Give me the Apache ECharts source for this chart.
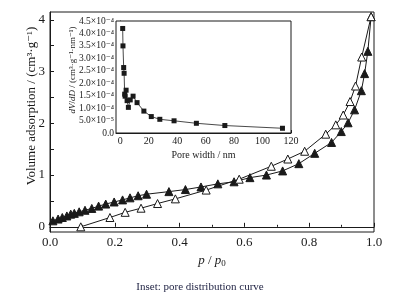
<!DOCTYPE html>
<html>
<head>
<meta charset="utf-8">
<script src="https://cdn.jsdelivr.net/npm/echarts@6/dist/echarts.min.js"></script>
<style>
  html, body { margin: 0; padding: 0; background: #fff; }
  #chart { width: 398px; height: 299px; }
</style>
</head>
<body>
<div id="chart"></div>
<script>
// 主图：吸附（实心）和脱附（空心）等温线
const adsP = [0.009, 0.025, 0.038, 0.052, 0.064, 0.075, 0.09, 0.108, 0.129, 0.15, 0.172, 0.198, 0.224, 0.247, 0.272, 0.298,
    0.367, 0.418, 0.466, 0.518, 0.568, 0.617, 0.668, 0.718, 0.768, 0.817, 0.869, 0.899, 0.92, 0.94, 0.961, 0.971, 0.981, 0.991];
const adsV = [0.116, 0.15, 0.18, 0.21, 0.245, 0.26, 0.29, 0.32, 0.355, 0.40, 0.44, 0.48, 0.52, 0.56, 0.60, 0.63,
    0.68, 0.72, 0.77, 0.83, 0.87, 0.95, 1.00, 1.08, 1.22, 1.42, 1.63, 1.84, 2.01, 2.26, 2.63, 2.96, 3.39, 4.06];
const desP = [0.095, 0.185, 0.232, 0.281, 0.332, 0.387, 0.482, 0.584, 0.683, 0.734, 0.786, 0.851, 0.882, 0.905, 0.926, 0.943, 0.962, 0.991];
const desV = [0.0, 0.18, 0.28, 0.36, 0.45, 0.54, 0.71, 0.92, 1.17, 1.31, 1.46, 1.79, 1.97, 2.16, 2.42, 2.72, 3.28, 4.06];

// 插图：孔径分布
const poreWidth = [1.7, 1.9, 2.4, 2.7, 3.1, 3.4, 4.1, 4.8, 5.7, 7.0, 9.0, 11.8, 16.6, 21.8, 27.8, 37.8, 53.5, 73.5, 114];
const dVdD = [4.2e-4, 3.5e-4, 2.63e-4, 2.4e-4, 1.56e-4, 1.48e-4, 1.72e-4, 1.3e-4, 1.03e-4, 1.33e-4, 1.48e-4, 1.22e-4,
    0.88e-4, 0.66e-4, 0.55e-4, 0.49e-4, 0.39e-4, 0.30e-4, 0.19e-4];

const mainYLabels = [0, 1, 2, 3, 4];
const mainYTicks = [0, 0.5, 1, 1.5, 2, 2.5, 3, 3.5, 4];
const insetXLabels = [0, 20, 40, 60, 80, 100, 120];
const insetXTicks = [0, 10, 20, 30, 40, 50, 60, 70, 80, 90, 100, 110, 120];

const serif = '"Liberation Serif", "DejaVu Serif", serif';
const ink = '#1a1a1a';

const sup = { '0': '⁰', '1': '¹', '2': '²', '3': '³', '4': '⁴', '5': '⁵', '6': '⁶', '7': '⁷', '8': '⁸', '9': '⁹', '-': '⁻' };
function sciLabel(v) {
    if (Math.abs(v) < 1e-12) return '0.0';
    const e = Math.floor(Math.log10(v) + 1e-9);
    const m = (v / Math.pow(10, e)).toFixed(1);
    return m + '×10' + String(e).split('').map(c => sup[c]).join('');
}

const pair = (xs, ys) => xs.map((x, i) => [x, ys[i]]);

const chart = echarts.init(document.getElementById('chart'), null, { renderer: 'canvas' });

const axisCommon = {
    axisLine: { lineStyle: { color: ink, width: 1 } },
    axisTick: { inside: true, lineStyle: { color: ink } },
    splitLine: { show: false },
    axisLabel: { color: ink, fontFamily: serif }
};

chart.setOption({
    backgroundColor: '#fff',
    animation: false,
    grid: [
        { left: 50, right: 24, top: 12, bottom: 67, show: true, borderColor: ink, borderWidth: 1, backgroundColor: 'transparent' },
        { left: 116, right: 107, top: 21, bottom: 166, show: true, borderColor: ink, borderWidth: 1, backgroundColor: '#fff', z: 5 }
    ],
    xAxis: [
        {
            ...axisCommon, gridIndex: 0, type: 'value', min: 0, max: 1, interval: 0.2,
            axisTick: { inside: true, length: 4, lineStyle: { color: ink } },
            minorTick: { show: true, splitNumber: 2, length: 2, lineStyle: { color: ink } },
            axisLabel: { color: ink, fontFamily: serif, fontSize: 13, margin: 4, formatter: v => v.toFixed(1) },
            name: '{i|p} / {i|p}{s|0}', nameLocation: 'middle', nameGap: 14,
            nameTextStyle: {
                color: ink, fontFamily: serif, fontSize: 13,
                rich: {
                    i: { fontStyle: 'italic', fontFamily: serif, fontSize: 13, color: ink },
                    s: { fontFamily: serif, fontSize: 9, color: ink, verticalAlign: 'bottom', padding: [6, 0, 0, 0] }
                }
            }
        },
        {
            ...axisCommon, gridIndex: 1, type: 'value', min: -3, max: 120,
            axisTick: { inside: true, length: 3, customValues: insetXTicks, lineStyle: { color: ink } },
            axisLabel: { color: ink, fontFamily: serif, fontSize: 10, margin: 3, customValues: insetXLabels },
            name: 'Pore width / nm', nameLocation: 'middle', nameGap: 17,
            nameTextStyle: { color: ink, fontFamily: serif, fontSize: 10 }
        }
    ],
    yAxis: [
        {
            ...axisCommon, gridIndex: 0, type: 'value', min: -0.1, max: 4.15,
            axisTick: { inside: true, length: 4, customValues: mainYTicks, lineStyle: { color: ink } },
            axisLabel: { color: ink, fontFamily: serif, fontSize: 13, margin: 5, customValues: mainYLabels }
        },
        {
            ...axisCommon, gridIndex: 1, type: 'value', min: 0, max: 4.5e-4, interval: 0.5e-4,
            axisTick: { inside: true, length: 3, lineStyle: { color: ink } },
            axisLabel: { color: ink, fontFamily: serif, fontSize: 9.5, margin: 2, formatter: sciLabel }
        }
    ],
    graphic: [
        {
            type: 'text', x: 32, y: 106, rotation: Math.PI / 2, z: 10,
            style: {
                text: 'Volume adsorption / (cm³·g⁻¹)', fill: ink, font: '13px ' + serif,
                align: 'center', verticalAlign: 'middle'
            }
        },
        {
            type: 'text', x: 73, y: 70, rotation: Math.PI / 2, z: 10,
            style: {
                text: '{i|dV}/{i|dD} / (cm³·g⁻¹·nm⁻¹)', fill: ink, font: '9px ' + serif,
                align: 'center', verticalAlign: 'middle',
                rich: { i: { fontStyle: 'italic', fontFamily: serif, fontSize: 9, fill: ink } }
            }
        },
        {
            type: 'text', x: 200, y: 287, z: 10,
            style: {
                text: 'Inset: pore distribution curve', fill: '#1c1f40', font: '11px ' + serif,
                align: 'center', verticalAlign: 'middle'
            }
        }
    ],
    series: [
        {
            type: 'line', xAxisIndex: 0, yAxisIndex: 0, data: pair(adsP, adsV),
            symbol: 'triangle', symbolSize: 8, showAllSymbol: true,
            lineStyle: { color: ink, width: 1 }, itemStyle: { color: ink, borderColor: ink, borderWidth: 1 }
        },
        {
            type: 'line', xAxisIndex: 0, yAxisIndex: 0, data: pair(desP, desV),
            symbol: 'triangle', symbolSize: 8, showAllSymbol: true,
            lineStyle: { color: ink, width: 1 }, itemStyle: { color: '#fff', borderColor: ink, borderWidth: 1 }
        },
        {
            type: 'line', xAxisIndex: 1, yAxisIndex: 1, data: pair(poreWidth, dVdD), z: 6,
            symbol: 'rect', symbolSize: 5, showAllSymbol: true,
            lineStyle: { color: ink, width: 0.8 }, itemStyle: { color: ink }
        }
    ]
});
</script>
</body>
</html>
